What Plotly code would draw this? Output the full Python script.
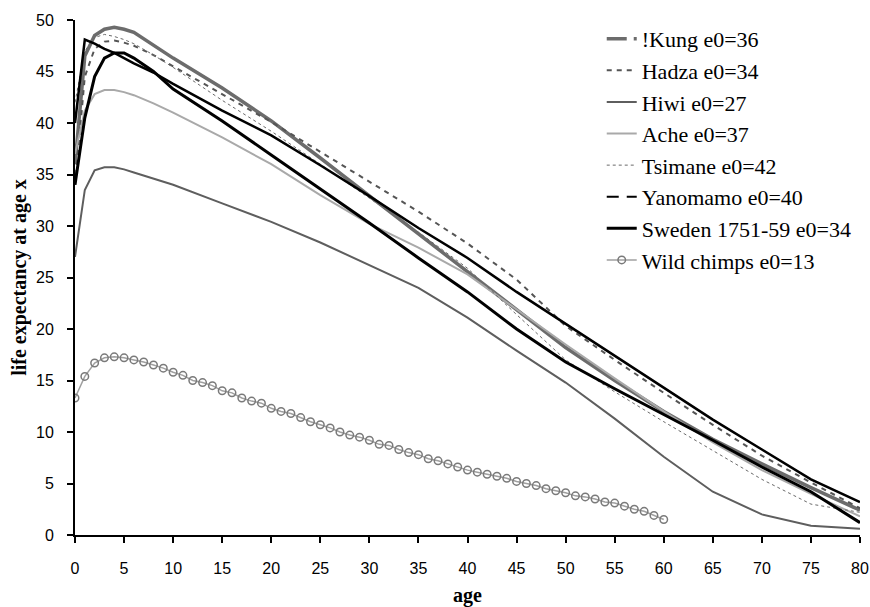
import plotly.graph_objects as go

AGES = [0, 1, 2, 3, 4, 5, 6, 8, 10, 15, 20, 25, 30, 35, 40, 45, 50, 55, 60, 65, 70, 75, 80]

KUNG      = [36, 46.5, 48.5, 49.1, 49.3, 49.1, 48.8, 47.5, 46.3, 43.4, 40.2, 36.6, 32.9, 29.2, 25.6, 21.8, 18.2, 15.0, 12.0, 9.3, 6.9, 4.6, 2.4]
HADZA     = [34, 44.5, 47.2, 47.9, 48.0, 47.8, 47.5, 46.6, 45.5, 42.8, 40.1, 37.2, 34.3, 31.4, 28.3, 24.8, 20.3, 17.0, 13.8, 10.7, 7.7, 5.1, 2.6]
HIWI      = [27, 33.5, 35.4, 35.7, 35.7, 35.5, 35.2, 34.6, 34.0, 32.2, 30.4, 28.4, 26.2, 24.0, 21.1, 17.9, 14.8, 11.3, 7.6, 4.2, 2.0, 0.9, 0.6]
ACHE      = [37, 41.2, 42.8, 43.2, 43.2, 43.0, 42.7, 41.9, 41.0, 38.6, 36.0, 33.0, 30.2, 27.9, 25.3, 21.9, 18.5, 15.2, 12.0, 9.0, 6.3, 4.0, 1.8]
TSIMANE   = [42, 47.0, 48.3, 48.6, 48.4, 48.1, 47.7, 46.6, 45.4, 42.2, 39.2, 36.0, 32.7, 29.4, 25.9, 21.4, 17.0, 13.9, 11.0, 8.2, 5.4, 3.0, 2.2]
YANOMAMO  = [40, 48.1, 47.7, 47.2, 46.8, 46.3, 45.8, 44.9, 43.8, 41.2, 38.8, 35.9, 32.9, 29.8, 26.9, 23.6, 20.5, 17.4, 14.3, 11.2, 8.3, 5.4, 3.2]
SWEDEN    = [34, 40.5, 44.5, 46.3, 46.8, 46.8, 46.3, 45.0, 43.3, 40.2, 36.9, 33.6, 30.3, 26.9, 23.6, 20.0, 16.8, 14.2, 11.7, 9.2, 6.6, 4.2, 1.2]

CHIMP_AGES = list(range(0, 61))
CHIMPS = [13.3, 15.4, 16.7, 17.2, 17.3, 17.2, 17.0, 16.8, 16.5, 16.2,
          15.8, 15.5, 15.0, 14.8, 14.5, 14.0, 13.8, 13.3, 13.0, 12.8,
          12.3, 12.0, 11.8, 11.4, 11.0, 10.7, 10.4, 10.0, 9.7, 9.5,
          9.2, 8.8, 8.7, 8.3, 8.0, 7.8, 7.4, 7.2, 6.9, 6.6,
          6.3, 6.1, 5.9, 5.7, 5.5, 5.2, 5.0, 4.8, 4.5, 4.3,
          4.1, 3.8, 3.7, 3.5, 3.2, 3.1, 2.8, 2.5, 2.3, 1.9, 1.5]

X_TICKS = list(range(0, 81, 5))
Y_TICKS = list(range(0, 51, 5))

NAMES = ["!Kung e0=36", "Hadza e0=34", "Hiwi e0=27", "Ache e0=37",
         "Tsimane e0=42", "Yanomamo e0=40", "Sweden 1751-59 e0=34", "Wild chimps e0=13"]

fig = go.Figure()

# !Kung: drawn solid-looking, legend shows long-dash pattern
fig.add_trace(go.Scatter(x=AGES, y=KUNG, mode="lines", showlegend=False,
                         line=dict(color="#6c6c6c", width=3.5)))
fig.add_trace(go.Scatter(x=[None], y=[None], mode="lines", name=NAMES[0],
                         line=dict(color="#6c6c6c", width=3.5, dash="20px,7px")))
fig.add_trace(go.Scatter(x=AGES, y=HADZA, mode="lines", name=NAMES[1],
                         line=dict(color="#555555", width=2, dash="5px,5px")))
fig.add_trace(go.Scatter(x=AGES, y=HIWI, mode="lines", name=NAMES[2],
                         line=dict(color="#5e5e5e", width=2)))
fig.add_trace(go.Scatter(x=AGES, y=ACHE, mode="lines", name=NAMES[3],
                         line=dict(color="#a9a9a9", width=2)))
fig.add_trace(go.Scatter(x=AGES, y=TSIMANE, mode="lines", name=NAMES[4],
                         line=dict(color="#6a6a6a", width=1, dash="dot")))
fig.add_trace(go.Scatter(x=AGES, y=YANOMAMO, mode="lines", showlegend=False,
                         line=dict(color="black", width=2.5)))
fig.add_trace(go.Scatter(x=[None], y=[None], mode="lines", name=NAMES[5],
                         line=dict(color="black", width=2, dash="12px,8px")))
fig.add_trace(go.Scatter(x=AGES, y=SWEDEN, mode="lines", name=NAMES[6],
                         line=dict(color="black", width=3)))
fig.add_trace(go.Scatter(x=CHIMP_AGES, y=CHIMPS, mode="lines+markers", name=NAMES[7],
                         line=dict(color="#a0a0a0", width=1.5),
                         marker=dict(symbol="circle-open", size=7.5,
                                     color="#7a7a7a", line=dict(width=1.5))))

fig.update_layout(
    width=870, height=607,
    margin=dict(l=75, r=10, t=20, b=72),
    plot_bgcolor="white", paper_bgcolor="white",
    font=dict(family="Liberation Serif", color="black"),
    legend=dict(x=0.671, y=1.004, xanchor="left", yanchor="top",
                bgcolor="rgba(0,0,0,0)", borderwidth=0,
                font=dict(family="Liberation Serif", size=22, color="black"),
                tracegroupgap=0),
)
fig.update_xaxes(range=[0, 80], tickvals=X_TICKS, ticktext=[str(v) for v in X_TICKS],
                 showgrid=False, zeroline=False, automargin=False,
                 showline=True, linecolor="black", linewidth=2,
                 ticks="outside", ticklen=6, tickwidth=2, tickcolor="black",
                 tickfont=dict(family="Liberation Sans", size=16, color="black"),
                 ticklabelstandoff=12,
                 title=dict(text="<b>age</b>", font=dict(family="Liberation Serif", size=20),
                            standoff=20))
fig.update_yaxes(range=[0, 50], tickvals=Y_TICKS, ticktext=[str(v) for v in Y_TICKS],
                 showgrid=False, zeroline=False, automargin=False,
                 showline=True, linecolor="black", linewidth=2,
                 ticks="outside", ticklen=6, tickwidth=2, tickcolor="black",
                 tickfont=dict(family="Liberation Sans", size=16, color="black"),
                 ticklabelstandoff=10,
                 title=dict(text="<b>life expectancy at age x</b>",
                            font=dict(family="Liberation Serif", size=20),
                            standoff=4))

fig.write_html("out.html",
               config={"displayModeBar": False},
               post_script="document.body.style.margin='0';document.body.style.overflow='hidden';")
